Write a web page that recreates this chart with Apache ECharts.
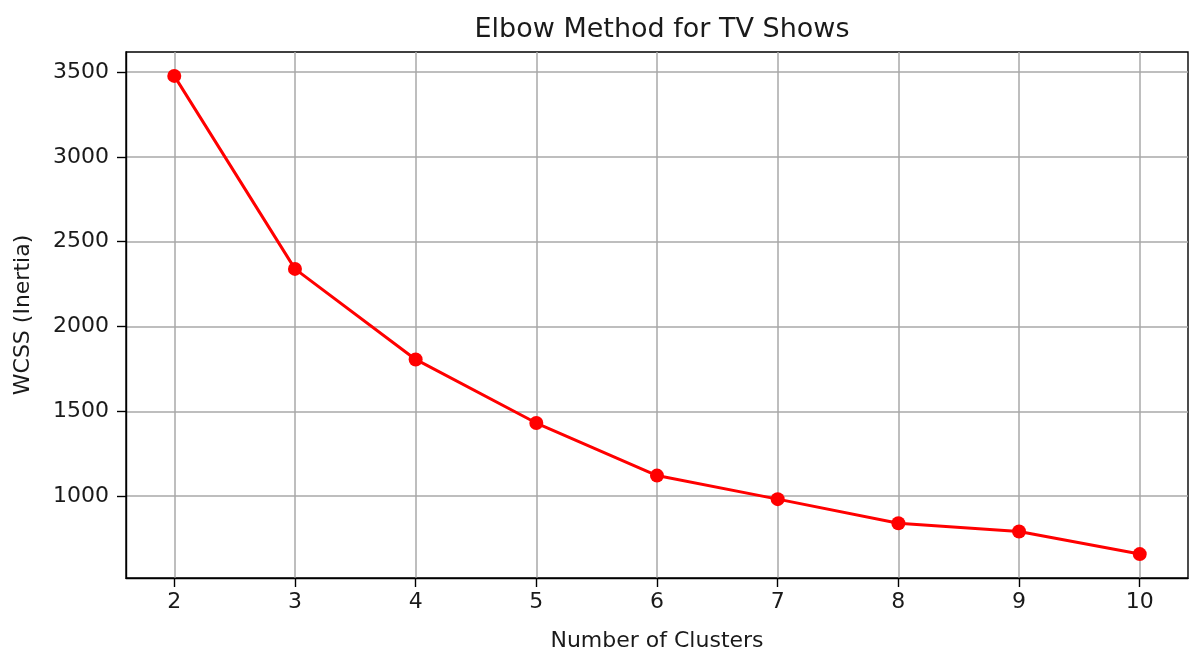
<!DOCTYPE html>
<html>
<head>
<meta charset="utf-8">
<script src="https://cdn.jsdelivr.net/npm/echarts@6/dist/echarts.min.js"></script>
<style>
  html, body { margin: 0; padding: 0; background: #fff; }
  #main { width: 1189px; height: 657px; }
</style>
</head>
<body>
<div id="main"></div>
<script>
// data
var clusters = [2, 3, 4, 5, 6, 7, 8, 9, 10];
var wcss = [3478, 2340, 1806, 1431, 1121, 982, 840, 791, 658];
var xTicks = [2, 3, 4, 5, 6, 7, 8, 9, 10];
var yTicks = [1000, 1500, 2000, 2500, 3000, 3500];

var font = 'DejaVu Sans';
var ink = '#1a1a1a';

var chart = echarts.init(document.getElementById('main'), null, {renderer: 'canvas'});
chart.setOption({
    animation: false,
    title: {
        text: 'Elbow Method for TV Shows',
        left: 657, top: 11, textAlign: 'center',
        textStyle: {fontFamily: font, fontSize: 27, fontWeight: 'normal', color: ink}
    },
    grid: {
        left: 126, right: 1, top: 52, bottom: 75,
        show: true, borderColor: '#000', borderWidth: 1.4,
        backgroundColor: 'transparent'
    },
    xAxis: {
        type: 'value', min: 1.6, max: 10.4,
        name: 'Number of Clusters', nameLocation: 'middle', nameGap: 52,
        nameTextStyle: {fontFamily: font, fontSize: 22, color: ink},
        axisLine: {show: true, lineStyle: {color: '#000', width: 1.4}},
        axisTick: {show: true, customValues: xTicks, length: 9, lineStyle: {color: '#000', width: 1.4}},
        axisLabel: {customValues: xTicks, formatter: function (v) { return String(v); },
            fontFamily: font, fontSize: 22, color: ink, margin: 13},
        splitLine: {show: true, lineStyle: {color: '#a8a8a8', width: 1.5}}
    },
    yAxis: {
        type: 'value', min: 517, max: 3619,
        name: 'WCSS (Inertia)', nameLocation: 'middle', nameGap: 92,
        nameTextStyle: {fontFamily: font, fontSize: 22, color: ink},
        axisLine: {show: true, lineStyle: {color: '#000', width: 1.4}},
        axisTick: {show: true, customValues: yTicks, length: 9, lineStyle: {color: '#000', width: 1.4}},
        axisLabel: {customValues: yTicks, formatter: function (v) { return String(v); },
            fontFamily: font, fontSize: 22, color: ink, margin: 17},
        splitLine: {show: true, lineStyle: {color: '#a8a8a8', width: 1.5}}
    },
    series: [{
        type: 'line',
        data: clusters.map(function (k, i) { return [k, wcss[i]]; }),
        symbol: 'circle', symbolSize: 14,
        lineStyle: {color: '#ff0000', width: 3},
        itemStyle: {color: '#ff0000'}
    }]
});
</script>
</body>
</html>
